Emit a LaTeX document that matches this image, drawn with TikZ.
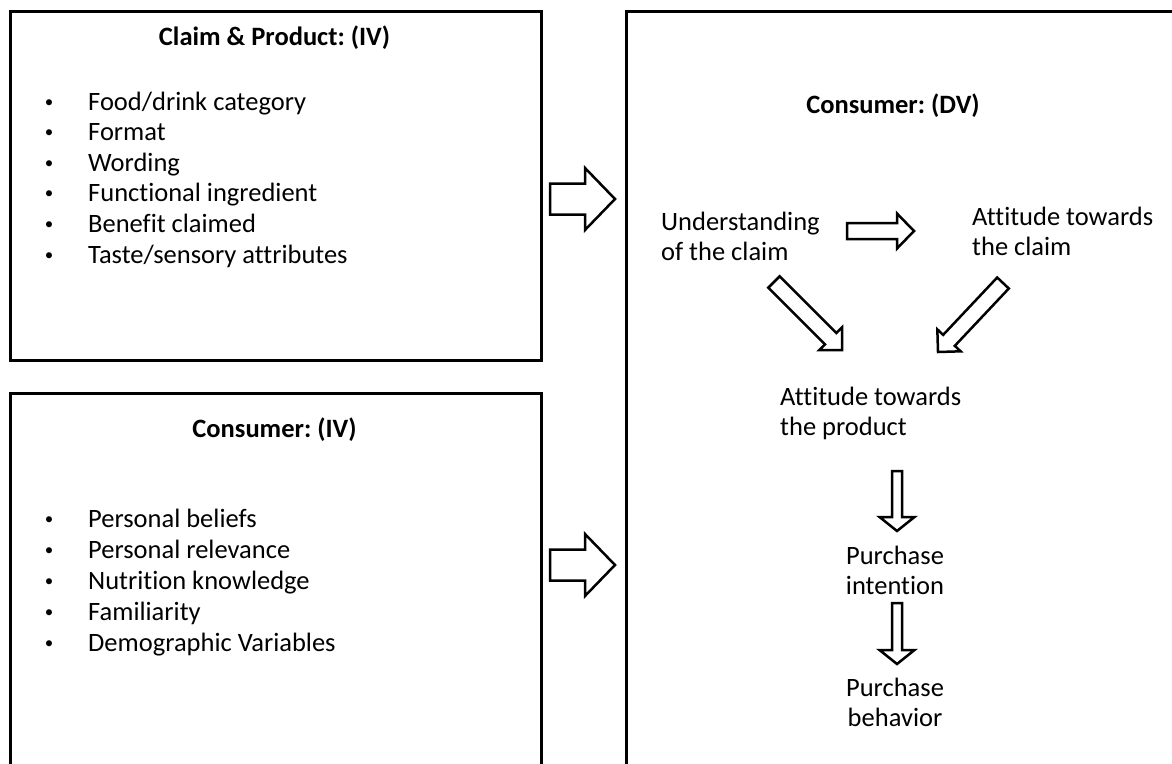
\documentclass[tikz,border=0pt]{standalone}
\usepackage{fontspec}
\setmainfont{Carlito}[Ligatures=NoCommon]
\frenchspacing
\usetikzlibrary{calc,positioning}

\tikzset{
  panel/.style={draw,line width=2.6pt,anchor=north west,inner sep=0pt},
  txt/.style={font=\fontsize{26.5}{30}\selectfont,inner sep=0pt,align=left},
  head/.style={txt,font=\fontsize{26.5}{30}\selectfont\bfseries},
  item/.style={txt,anchor=base west},
  dot/.style={inner sep=0pt,anchor=base,font=\fontsize{17}{20}\selectfont},
  blk/.style={draw,fill=white,line width=2.5pt,line join=miter}
}
% hollow block arrow: start, tip, half shaft, half head, head length
\newcommand{\blockarrow}[5]{%
  \coordinate (hb) at ($(#2)!#5!(#1)$);
  \draw[blk] ($(#1)!#3!90:(#2)$) -- ($(hb)!#3!90:(#2)$) -- ($(hb)!#4!90:(#2)$)
    -- (#2) -- ($(hb)!#4!-90:(#2)$) -- ($(hb)!#3!-90:(#2)$)
    -- ($(#1)!#3!-90:(#2)$) -- cycle;}

\begin{document}
\begin{tikzpicture}[x=1pt,y=-1pt]
  \clip (0,0) rectangle (1172,763);
  \fill[white] (0,0) rectangle (1172,763);

  % the three panels
  \node[panel,minimum width=531pt,minimum height=349pt] (claimbox) at (9,10) {};
  \node[panel,minimum width=531pt,minimum height=420pt] (ivbox) at (9,392) {};
  \node[panel,minimum width=600pt,minimum height=800pt] (dvbox) at (625,10) {};

  % left panels
  \node[head] (cptitle) at (274.5,38) {Claim \& Product: (IV)};
  \foreach \t [count=\i from 0] in {{Food/drink category},Format,Wording,
      {Functional ingredient},{Benefit claimed},{Taste/sensory attributes}}{
    \node[dot] at (49,107+30.6*\i) {\textbullet};
    \node[item] (cp\i) at (88,110+30.6*\i) {\t};
  }
  \node[head] (ivtitle) at (274.5,430) {Consumer: (IV)};
  \foreach \t [count=\i from 0] in {{Personal beliefs},{Personal relevance},
      {Nutrition knowledge},Familiarity,{Demographic Variables}}{
    \node[dot] at (49,524+31*\i) {\textbullet};
    \node[item] (iv\i) at (88,527+31*\i) {\t};
  }

  % right panel
  \node[head] (dvtitle) at (893,106) {Consumer: (DV)};
  \node[txt,anchor=west] (underst) at (661,236) {Understanding\\of the claim};
  \node[txt,anchor=west] (attclaim) at (972,231) {Attitude towards\\the claim};
  \node[txt,anchor=west] (attprod) at (780,413) {Attitude towards\\the product};
  \node[txt,align=center] (intent) at (895,570) {Purchase\\intention};
  \node[txt,align=center] (behav) at (895,702) {Purchase\\behavior};

  % arrow ends
  \coordinate (a1) at (550,199);  \coordinate (b1) at (615,199);
  \coordinate (a2) at (550,565);  \coordinate (b2) at (615,565);
  \coordinate (a3) at (847,231);  \coordinate (b3) at (914,231);
  \coordinate (a4) at (774,282);  \coordinate (b4) at (842,350);
  \coordinate (a5) at (1003,283); \coordinate (b5) at (938,352);
  \coordinate (a6) at (897,471);  \coordinate (b6) at (897,531);
  \coordinate (a7) at (897,603);  \coordinate (b7) at (897,664);

  \blockarrow{a1}{b1}{15.5pt}{31pt}{30pt}
  \blockarrow{a2}{b2}{15.5pt}{31pt}{30pt}
  \blockarrow{a3}{b3}{8pt}{17.5pt}{17pt}
  \blockarrow{a4}{b4}{8pt}{16pt}{16pt}
  \blockarrow{a5}{b5}{8pt}{16pt}{16pt}
  \blockarrow{a6}{b6}{5pt}{17.5pt}{14pt}
  \blockarrow{a7}{b7}{5pt}{17.5pt}{14pt}
\end{tikzpicture}
\end{document}
